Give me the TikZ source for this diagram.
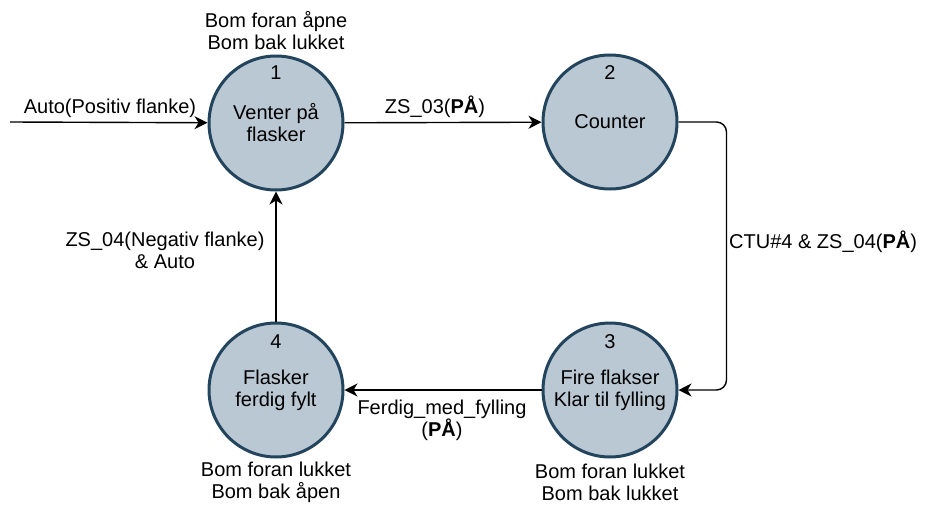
\documentclass[tikz,border=0pt]{standalone}
\usepackage{fontspec}
\setmainfont{Liberation Sans}
\usetikzlibrary{arrows.meta}
\definecolor{statefill}{HTML}{BAC8D3}
\definecolor{stateline}{HTML}{23445D}

\begin{document}
\begin{tikzpicture}
[
    x=1pt, y=-1pt,
    every node/.style={font=\fontsize{20}{22}\selectfont, align=center, inner sep=0pt},
    state/.style={circle, draw=stateline, fill=statefill, line width=3pt, minimum size=134pt},
    trans/.style={-{Stealth[length=13pt, width=13pt, inset=4pt]}, line width=1.4pt},
]
\useasboundingbox (0,0) rectangle (929,506);

% states
\node [state] (s1) at (276,123) {Venter på\\flasker};
\node [state] (s2) at (610,122) {Counter};
\node [state] (s3) at (610,390) {Fire flakser\\Klar til fylling};
\node [state] (s4) at (276,390) {Flasker\\ferdig fylt};
\node (n1) at (276,73) {1};
\node (n2) at (610,73) {2};
\node (n3) at (610,342) {3};
\node (n4) at (276,342) {4};

% outputs
\node (o1) at (276,31) {Bom foran åpne\\Bom bak lukket};
\node (o4) at (276,482) {Bom foran lukket\\Bom bak åpen};
\node (o3) at (610,482) {Bom foran lukket\\Bom bak lukket};

% transitions
\coordinate (start) at (10,122);
\draw [trans] (start) -- (s1);
\draw [trans] (s1) -- (s2);
\draw [trans, rounded corners=10pt] (s2.east) -- ++(48,0) |- (s3.east);
\draw [trans] (s3) -- (s4);
\draw [trans] (s4) -- (s1);

\node (t0) at (110,108) {Auto(Positiv flanke)};
\node (t12) at (435,107) {ZS\_03(\textbf{PÅ})};
\node [anchor=west] (t23) at (729,242) {CTU\#4 \& ZS\_04(\textbf{PÅ})};
\node (t34) at (442,420) {Ferdig\_med\_fylling\\(\textbf{PÅ})};
\node (t41) at (165,250) {ZS\_04(Negativ flanke)\\\& Auto};
\end{tikzpicture}
\end{document}
